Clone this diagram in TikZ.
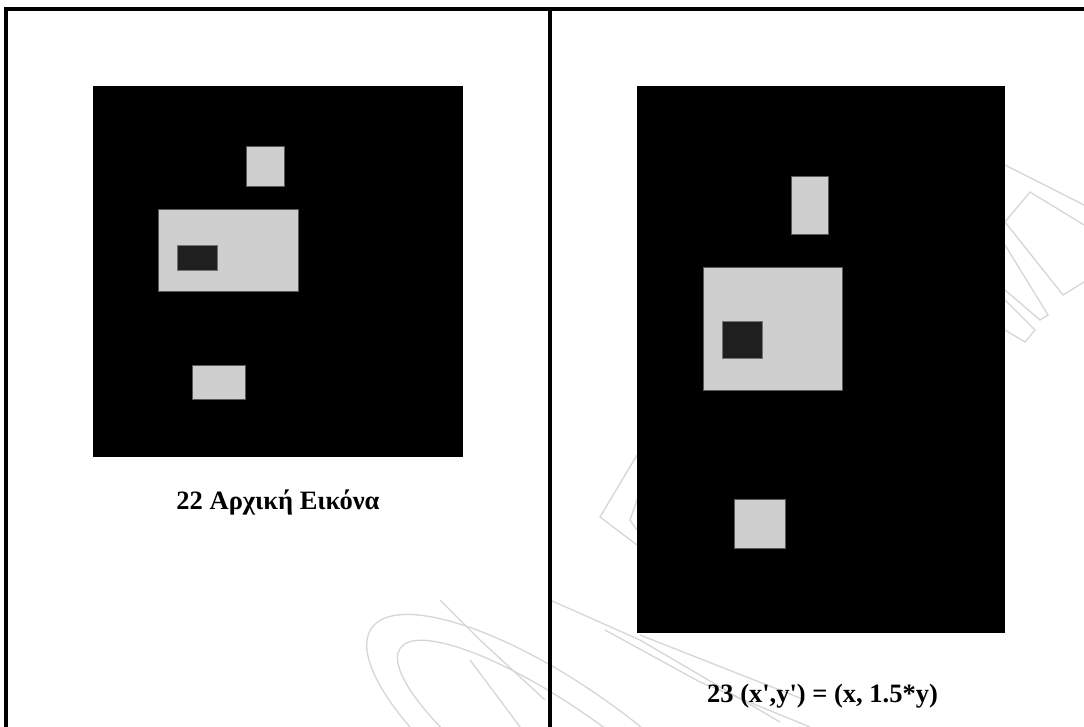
\documentclass[tikz,border=0pt]{standalone}
\usepackage{fontspec}
\setmainfont{Liberation Serif}[Ligatures=TeXOff]
\begin{document}
\begin{tikzpicture}[x=1pt,y=-1pt,
  frame/.style={line width=3.4pt,black},
  canvas/.style={fill=black,draw=none},
  lightblk/.style={fill=black!19,draw=black!65,line width=0.9pt},
  darkblk/.style={fill=black!88,draw=black!55,line width=0.9pt},
  capt/.style={font=\fontsize{26.5}{30}\selectfont\bfseries,anchor=base,inner sep=0pt},
  wm/.style={draw=black!16,line width=1.3pt}]
\useasboundingbox (0,0) rectangle (1084,727);
\fill[white] (0,0) rectangle (1084,727);
% watermark
\draw[wm,rotate around={-35:(560,760)}] (560,760) ellipse [x radius=230,y radius=75];
\draw[wm,rotate around={-35:(560,760)}] (560,760) ellipse [x radius=195,y radius=52];
\draw[wm] (637,455) -- (600,517) -- (637,545);
\draw[wm] (637,500) -- (630,520) -- (637,530);
\draw[wm] (550,600) -- (640,640) -- (780,722);
\draw[wm] (605,630) -- (700,682) -- (810,727);
\draw[wm] (640,635) -- (805,700);
\draw[wm] (1005,165) -- (1084,205);
\draw[wm] (1084,225) -- (1030,192) -- (1005,222) -- (1063,295) -- (1084,282);
\draw[wm] (1005,245) -- (1048,315) -- (1040,320) -- (1005,290);
\draw[wm] (1005,300) -- (1035,330) -- (1025,342) -- (1005,330);
\draw[wm] (440,600) -- (480,640) -- (545,700);
\draw[wm] (470,660) -- (500,700) -- (520,727);
% canvases
\path[canvas] (93,86) rectangle (463,457);
\path[canvas] (637,86) rectangle (1005,633);
% left image
\path[lightblk] (246.7,146.7) rectangle (284.3,186);
\path[lightblk] (158.3,209.3) rectangle (298.3,291.3);
\path[darkblk] (177,245.3) rectangle (217.3,270);
\path[lightblk] (192.7,365.3) rectangle (245.3,399);
% right image
\path[lightblk] (791,176) rectangle (828.3,234);
\path[lightblk] (703.7,267.7) rectangle (842.7,390);
\path[darkblk] (722.7,321.7) rectangle (762.3,358);
\path[lightblk] (734,499) rectangle (785,548);
% frame
\coordinate (tl) at (6,9);
\coordinate (tr) at (1084,9);
\coordinate (bl) at (6,727);
\coordinate (dt) at (550,9);
\coordinate (db) at (550,727);
\draw[frame] (bl) -- (tl) -- (tr);
\draw[frame] (dt) -- (db);
% captions
\node[capt] (c1) at (278,509) {22 Αρχική Εικόνα};
\node[capt] (c2) at (822.5,702) {23 (x',y') = (x, 1.5*y)};
\end{tikzpicture}
\end{document}
